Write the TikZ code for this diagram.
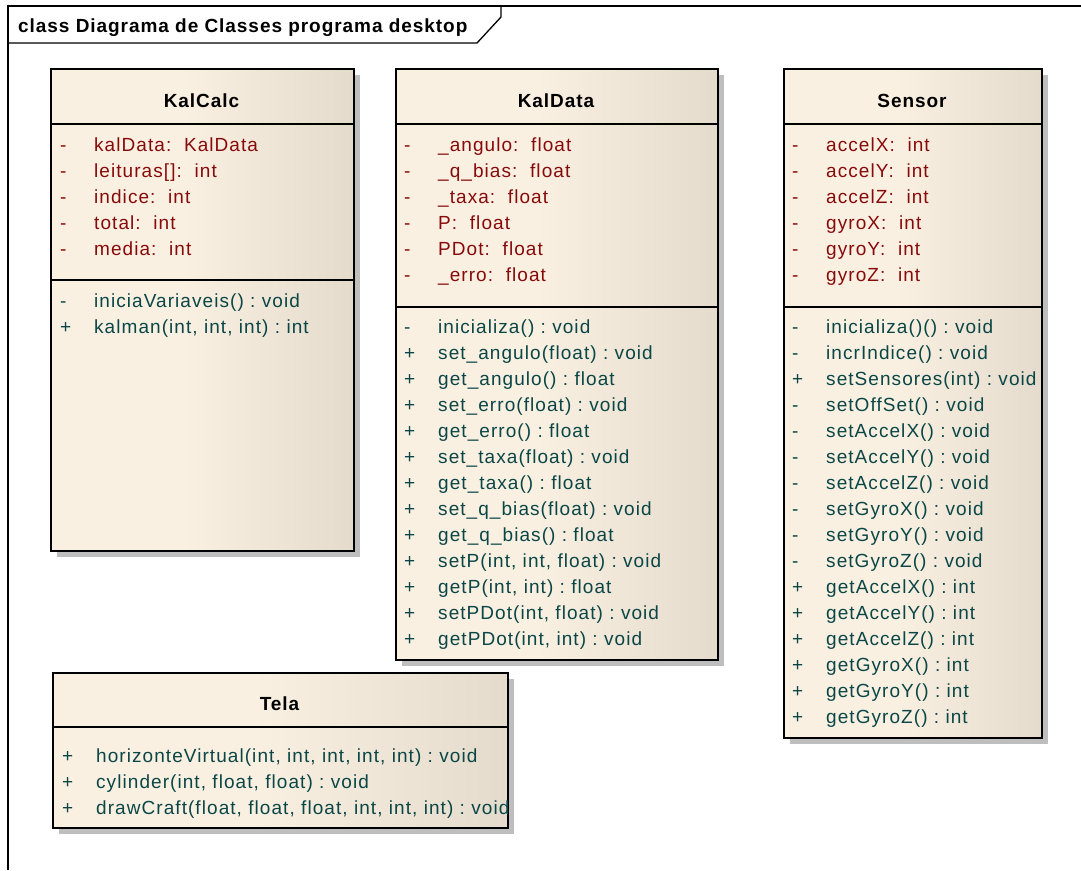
\documentclass[tikz,border=0pt]{standalone}
\usepackage{fontspec}
\setmainfont{Liberation Sans}[LetterSpace=5.6]
\newfontfamily\headfont{Liberation Sans}[LetterSpace=5]
\usetikzlibrary{shadows}
\definecolor{boxlight}{RGB}{250,240,226}
\definecolor{boxdark}{RGB}{228,219,205}
\definecolor{attrcol}{RGB}{135,10,10}
\definecolor{opcol}{RGB}{10,70,70}
\definecolor{shadowgray}{RGB}{190,190,190}
\pgfdeclarehorizontalshading{classfill}{100bp}{color(0bp)=(boxlight); color(25bp)=(boxlight); color(47bp)=(boxlight); color(75bp)=(boxdark); color(100bp)=(boxdark)}
\frenchspacing
% one compartment entry per row: visibility mark and member text
\newcommand\memberlist[6]{%
  \foreach \v/\t [count=\i] in {#6} {
    \node[#5] (#1v\i) at (#2,{#4+26*(\i-1)}) {\v};
    \node[#5] (#1t\i) at (#3,{#4+26*(\i-1)}) {\t};
  }}
\begin{document}
\begin{tikzpicture}[x=1pt,y=-1pt,
  frame/.style={draw=black,line width=1.3pt},
  classbox/.style={draw=black,line width=1.6pt,shading=classfill,anchor=north west,inner sep=0pt,
    drop shadow={shadow xshift=6pt,shadow yshift=-6pt,fill=shadowgray,opacity=1}},
  sep/.style={draw=black,line width=1.4pt},
  classname/.style={anchor=base,inner sep=0pt,font=\headfont\fontsize{19}{22}\selectfont\bfseries},
  attr/.style={anchor=base west,inner sep=0pt,text=attrcol,font=\fontsize{19}{21}\selectfont},
  oper/.style={anchor=base west,inner sep=0pt,text=opcol,font=\fontsize{19}{21}\selectfont}]
\useasboundingbox (0,0) rectangle (1081,870);

% diagram frame and its name tab
\draw[frame] (1081,6) -- (8,6) -- (8,870);
\draw[frame] (8,43) -- (477,43) -- (501,17) -- (501,6);
\node[anchor=base west,inner sep=0pt,font=\headfont\fontsize{19}{22}\selectfont\bfseries] (frametitle) at (18,32)
  {class Diagrama de Classes programa desktop};

% class boxes
\node[classbox,minimum width=303,minimum height=482] (kalcalc) at (50,68) {};
\node[classbox,minimum width=322,minimum height=591] (kaldata) at (395,68) {};
\node[classbox,minimum width=258,minimum height=669] (sensor) at (783,68) {};
\node[classbox,minimum width=455,minimum height=155] (tela) at (52,672) {};

% compartment separators
\draw[sep] ([yshift=-56pt]kalcalc.north west) -- ([yshift=-56pt]kalcalc.north east);
\draw[sep] ([yshift=-212pt]kalcalc.north west) -- ([yshift=-212pt]kalcalc.north east);
\draw[sep] ([yshift=-56pt]kaldata.north west) -- ([yshift=-56pt]kaldata.north east);
\draw[sep] ([yshift=-239pt]kaldata.north west) -- ([yshift=-239pt]kaldata.north east);
\draw[sep] ([yshift=-56pt]sensor.north west) -- ([yshift=-56pt]sensor.north east);
\draw[sep] ([yshift=-239pt]sensor.north west) -- ([yshift=-239pt]sensor.north east);
\draw[sep] ([yshift=-55pt]tela.north west) -- ([yshift=-55pt]tela.north east);

% class names
\node[classname] (kalcalcname) at (201.5,107) {KalCalc};
\node[classname] (kaldataname) at (556,107) {KalData};
\node[classname] (sensorname) at (912,107) {Sensor};
\node[classname] (telaname) at (279.5,710) {Tela};

% KalCalc
\memberlist{kca}{60}{94}{151}{attr}{-/{kalData:~~KalData}, -/{leituras[]:~~int}, -/{indice:~~int},
  -/{total:~~int}, -/{media:~~int}}
\memberlist{kco}{60}{94}{307}{oper}{-/{iniciaVariaveis() : void}, +/{kalman(int, int, int) : int}}

% KalData
\memberlist{kda}{404}{438}{151}{attr}{-/{\_angulo:~~float}, -/{\_q\_bias:~~float}, -/{\_taxa:~~float},
  -/{P:~~float}, -/{PDot:~~float}, -/{\_erro:~~float}}
\memberlist{kdo}{404}{438}{333}{oper}{-/{inicializa() : void}, +/{set\_angulo(float) : void},
  +/{get\_angulo() : float}, +/{set\_erro(float) : void}, +/{get\_erro() : float},
  +/{set\_taxa(float) : void}, +/{get\_taxa() : float}, +/{set\_q\_bias(float) : void},
  +/{get\_q\_bias() : float}, +/{setP(int, int, float) : void}, +/{getP(int, int) : float},
  +/{setPDot(int, float) : void}, +/{getPDot(int, int) : void}}

% Sensor
\memberlist{sna}{792}{826}{151}{attr}{-/{accelX:~~int}, -/{accelY:~~int}, -/{accelZ:~~int},
  -/{gyroX:~~int}, -/{gyroY:~~int}, -/{gyroZ:~~int}}
\memberlist{sno}{792}{826}{333}{oper}{-/{inicializa()() : void}, -/{incrIndice() : void},
  +/{setSensores(int) : void}, -/{setOffSet() : void}, -/{setAccelX() : void},
  -/{setAccelY() : void}, -/{setAccelZ() : void}, -/{setGyroX() : void}, -/{setGyroY() : void},
  -/{setGyroZ() : void}, +/{getAccelX() : int}, +/{getAccelY() : int}, +/{getAccelZ() : int},
  +/{getGyroX() : int}, +/{getGyroY() : int}, +/{getGyroZ() : int}}

% Tela
\memberlist{tlo}{62}{96}{762}{oper}{+/{horizonteVirtual(int, int, int, int, int) : void},
  +/{cylinder(int, float, float) : void}, +/{drawCraft(float, float, float, int, int, int) : void}}
\end{tikzpicture}
\end{document}
